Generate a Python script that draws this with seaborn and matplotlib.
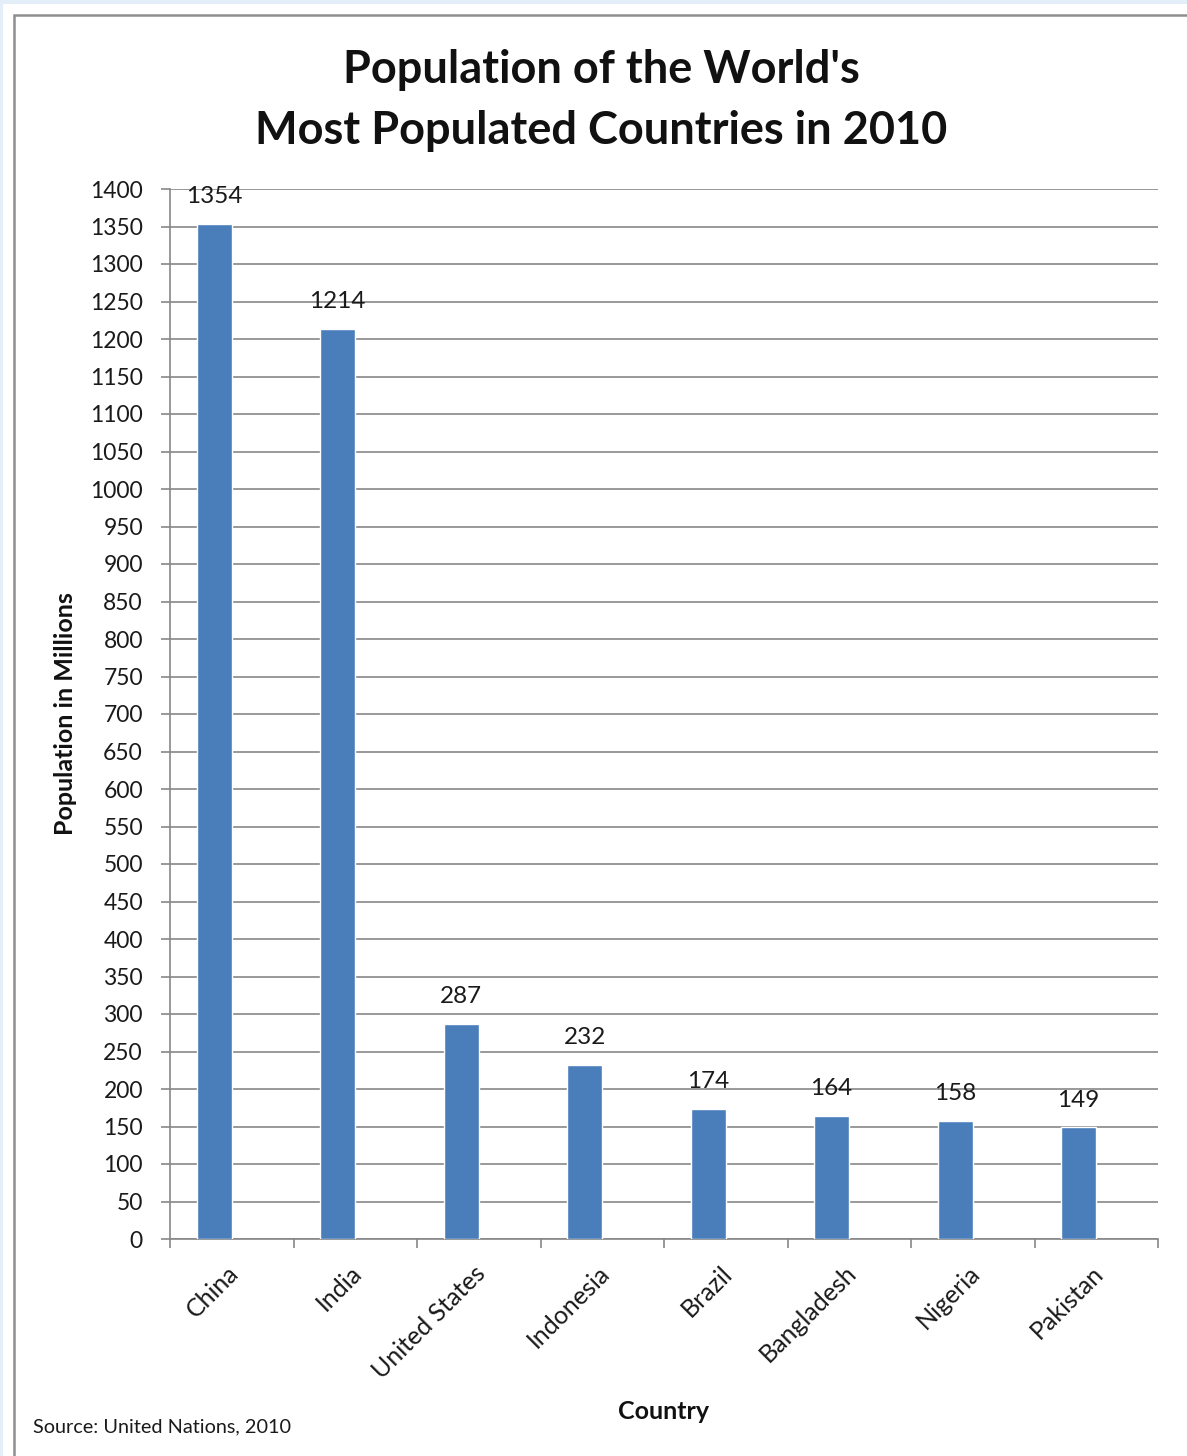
import matplotlib
matplotlib.use("Agg")
import matplotlib.pyplot as plt
import matplotlib.transforms as mtransforms
import seaborn as sns
import pandas as pd
import numpy as np
from matplotlib.patches import Rectangle
from matplotlib.ticker import MultipleLocator, FixedLocator, NullFormatter

# Population of the most populated countries, 2010 (millions)
countries = ["China", "India", "United States", "Indonesia", "Brazil",
             "Bangladesh", "Nigeria", "Pakistan"]
population = [1354, 1214, 287, 232, 174, 164, 158, 149]
title_lines = ["Population of the World's", "Most Populated Countries in 2010"]

sns.set_theme(style="white")
plt.rcParams['font.family'] = ['Lato', 'DejaVu Sans']

W, H = 1187, 1456
fig = plt.figure(figsize=(W / 100, H / 100), dpi=100)
fig.patch.set_facecolor('#e4eef9')

# white canvas and grey chart frame
fig.add_artist(Rectangle((3 / W, -0.01), 1.1, 1 - 4 / H + 0.01, transform=fig.transFigure,
                         facecolor='white', edgecolor='none', zorder=-20))
fig.add_artist(Rectangle((14 / W, -0.1), 1.2, 1 - 15 / H + 0.1, transform=fig.transFigure,
                         facecolor='none', edgecolor='#8e8e8e', linewidth=1.8, zorder=-10))

ax = fig.add_axes([170 / W, 1 - 1239 / H, (1158 - 170) / W, (1239 - 189) / H])

df = pd.DataFrame({"Country": countries, "Population": population})
# bars sit left of each category centre, as in a two-slot clustered column
df["pos"] = np.arange(len(countries)) - 0.1425

grid_col = '#878787'
text_col = '#1a1a1a'
sns.barplot(data=df, x="pos", y="Population", native_scale=True, orient="x",
            width=0.285, color="#4a7ebb", saturation=1, ax=ax, zorder=3)

ax.set_xlim(-0.5, len(countries) - 0.5)
ax.set_ylim(0, 1400)
ax.yaxis.set_major_locator(MultipleLocator(50))
ax.grid(axis='y', color=grid_col, linewidth=1.2, zorder=0)
ax.grid(axis='x', visible=False)
ax.set_axisbelow(True)

for side in ('top', 'right'):
    ax.spines[side].set_visible(False)
for side in ('left', 'bottom'):
    ax.spines[side].set_color(grid_col)
    ax.spines[side].set_linewidth(1.2)

# category boundary ticks and centred labels
ax.xaxis.set_major_locator(FixedLocator(np.arange(-0.5, len(countries), 1.0)))
ax.xaxis.set_major_formatter(NullFormatter())
ax.set_xticks(np.arange(len(countries)), countries, minor=True)
ax.tick_params(axis='x', which='major', bottom=True, length=6.5, width=1.2, color=grid_col, direction='out')
ax.tick_params(axis='x', which='minor', bottom=True, length=0, pad=16, labelsize=18, labelcolor=text_col)
nudge = mtransforms.ScaledTranslation(-5 / 100, 0, fig.dpi_scale_trans)
for lbl in ax.get_xticklabels(minor=True):
    lbl.set_rotation(45)
    lbl.set_ha('right')
    lbl.set_va('top')
    lbl.set_rotation_mode('anchor')
    lbl.set_transform(lbl.get_transform() + nudge)

ax.tick_params(axis='y', left=True, length=6.5, width=1.2, color=grid_col, pad=13,
               labelsize=16.5, labelcolor=text_col)

ax.bar_label(ax.containers[0], labels=[str(v) for v in population], padding=12,
             fontsize=17.5, color=text_col)

ax.set_xlabel("Country", fontsize=18, fontweight='bold', color='#111111', va='top')
ax.xaxis.set_label_coords(0.5, (1239 - 1400) / 1050)
ax.set_ylabel("Population in Millions", fontsize=18, fontweight='bold', color='#111111')
ax.yaxis.set_label_coords((77 - 170) / 988, 0.5)

for text, ypix in zip(title_lines, (70, 131)):
    fig.text(601 / W, 1 - ypix / H, text, ha='center', va='center', fontsize=32.5,
             fontweight='bold', color='#111111')

fig.text(33 / W, 1 - 1427 / H, "Source: United Nations, 2010", ha='left', va='center',
         fontsize=14.3, color=text_col)

fig.savefig("out.png", dpi=100, facecolor=fig.get_facecolor())
